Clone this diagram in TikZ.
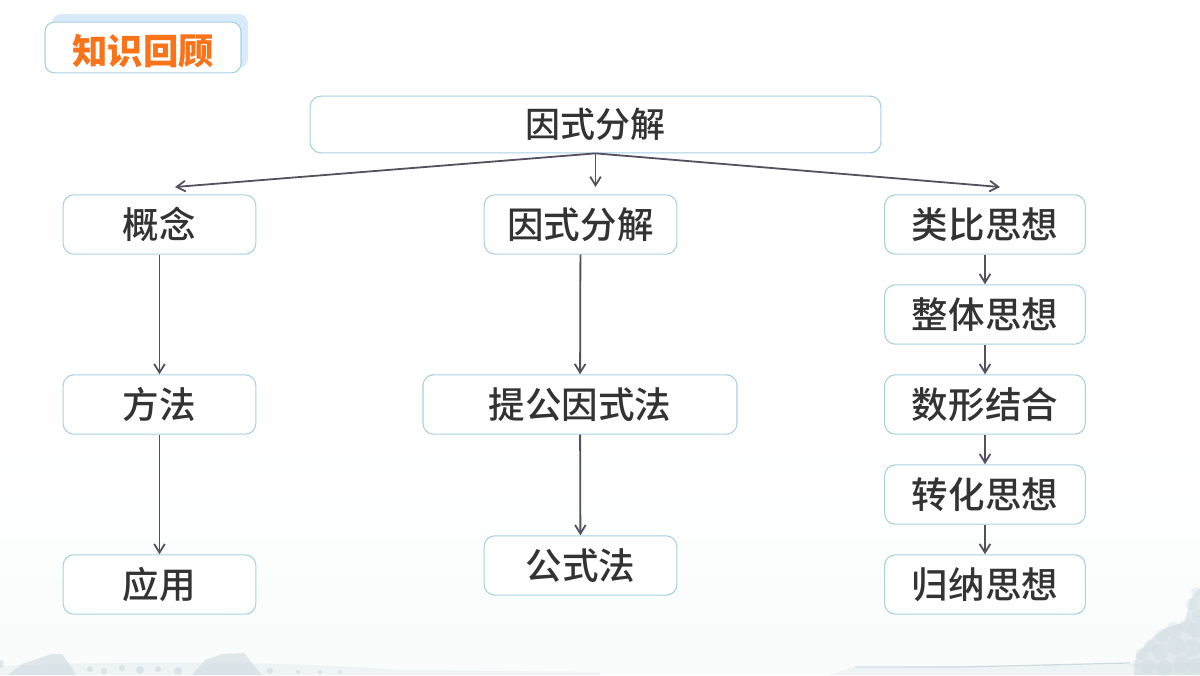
\documentclass[tikz,border=0pt]{standalone}
\usepackage{fontspec}
\setmainfont{Noto Sans CJK SC}
\newfontfamily\heavyfont{Noto Sans CJK SC Medium}
\usetikzlibrary{arrows.meta}
\definecolor{boxline}{RGB}{168,208,228}
\definecolor{backtab}{RGB}{217,235,250}
\definecolor{titleorange}{RGB}{250,115,25}
\definecolor{linkgray}{RGB}{85,80,95}
\definecolor{inkgray}{RGB}{205,218,224}
\definecolor{inkpale}{RGB}{238,243,245}
\definecolor{paperblue}{RGB}{250,252,252}
\tikzset{every picture/.style={line width=0.75pt}}
\tikzset{
  boxnode/.style={draw=boxline,fill=white,rounded corners=8,line width=0.8pt,inner sep=0pt,minimum height=44.5pt,text=black!80,font=\heavyfont\fontsize{27.4}{30}\selectfont},
  linkarrow/.style={draw=linkgray,line width=1.35pt,-{Straight Barb[length=6.5pt,width=8pt]}},
  inkblob/.style={fill=inkgray,draw=none,fill opacity=0.6}
}
\begin{document}
\begin{tikzpicture}[x=0.75pt,y=0.75pt,yscale=-1,xscale=1]
\useasboundingbox (0,0) rectangle (1200,675);

%Background
\fill[white] (0,0) rectangle (1200,675);
\shade[top color=white,bottom color=paperblue] (0,440) rectangle (1200,640);
\fill[paperblue] (0,640) rectangle (1200,675);
%Ink hills
\fill[inkpale] (0,675) -- (0,666) .. controls (150,660) and (300,662) .. (400,670) -- (600,672) -- (600,675) -- cycle;
\fill[inkpale] (830,675) -- (850,668) -- (1060,665) -- (1200,663) -- (1200,675) -- cycle;
%Roofs
\fill[inkblob] (8,675) -- (22,664) -- (52,654) -- (62,654) -- (72,668) -- (76,675) -- cycle;
\fill[inkblob] (192,675) -- (205,660) -- (222,654) -- (244,653) -- (256,668) -- (262,675) -- cycle;
%Bushes along the shore
\foreach \px/\py/\pr in {0/664/4,90/669/3,104/671/3,122/668/3,140/670/4,158/669/3,178/671/4,270/671/3,298/672/2,320/672/2,340/672/2} {
  \fill[inkblob] (\px,\py) circle[radius=\pr];
}
%Tree
\fill[inkgray,fill opacity=0.55] (1134,675) -- (1136,655) -- (1150,640) -- (1165,628) -- (1185,622) -- (1190,600) -- (1200,588) -- (1200,675) -- cycle;
\foreach \px/\py/\pr in {1196/592/5,1192/604/6,1198/616/6,1186/626/7,1174/630/8,1162/636/7,1196/630/8,1150/646/6,1142/654/6,1160/652/8,1176/646/9,1192/648/9,1136/664/4,1148/666/7,1164/668/8,1182/664/9,1197/666/8} {
  \fill[inkgray,fill opacity=0.3] (\px,\py) circle[radius=\pr];
}
\draw[inkgray,line width=0.9pt] (855,667) -- (960,667) -- (1130,663);

%Header tab
\fill[backtab,rounded corners=7] (52,14) rectangle (248,68);
\node[draw=boxline,fill=white,rounded corners=7,line width=0.8pt,inner sep=0pt,minimum width=147pt,minimum height=38pt] (tab) at (143,47.5) {};
\node[text=titleorange,font=\fontsize{26.5}{30}\selectfont\bfseries,inner sep=0pt] (tabtext) at (143,51) {知识回顾};

%Top box
\node[boxnode,minimum height=42.5pt,minimum width=428pt,font=\heavyfont\fontsize{26.2}{30}\selectfont] (root) at (595.5,124.5) {因式分解};

%Left column
\node[boxnode,minimum width=144.5pt] (gainian) at (159.5,224.5) {概念};
\node[boxnode,minimum width=144.5pt] (fangfa) at (159.5,404.5) {方法};
\node[boxnode,minimum width=144.5pt] (yingyong) at (159.5,584.5) {应用};

%Middle column
\node[boxnode,minimum width=144.5pt] (yinshi) at (580.5,224.5) {因式分解};
\node[boxnode,minimum width=235.5pt] (tigong) at (580,404.5) {提公因式法};
\node[boxnode,minimum width=144.5pt] (gongshi) at (580.5,565.5) {公式法};

%Right column
\node[boxnode,minimum width=150.5pt] (leibi) at (985,224.5) {类比思想};
\node[boxnode,minimum width=150.5pt] (zhengti) at (985,314.5) {整体思想};
\node[boxnode,minimum width=150.5pt] (shuxing) at (985,404.5) {数形结合};
\node[boxnode,minimum width=150.5pt] (zhuanhua) at (985,494.5) {转化思想};
\node[boxnode,minimum width=150.5pt] (guina) at (985,584.5) {归纳思想};

%Free ends of the top arrows
\coordinate (endleft) at (175,187);
\coordinate (endmid) at (595.5,187);
\coordinate (endright) at (1000,187);

\draw[linkarrow] (root.south) -- (endleft);
\draw[linkarrow] (root.south) -- (endmid);
\draw[linkarrow] (root.south) -- (endright);

\draw[linkarrow] (gainian) -- (fangfa);
\draw[linkarrow] (fangfa) -- (yingyong);
\draw[linkarrow] (yinshi) -- (tigong);
\draw[linkarrow] (tigong) -- (gongshi);
\draw[linkarrow] (leibi) -- (zhengti);
\draw[linkarrow] (zhengti) -- (shuxing);
\draw[linkarrow] (shuxing) -- (zhuanhua);
\draw[linkarrow] (zhuanhua) -- (guina);
\end{tikzpicture}
\end{document}
